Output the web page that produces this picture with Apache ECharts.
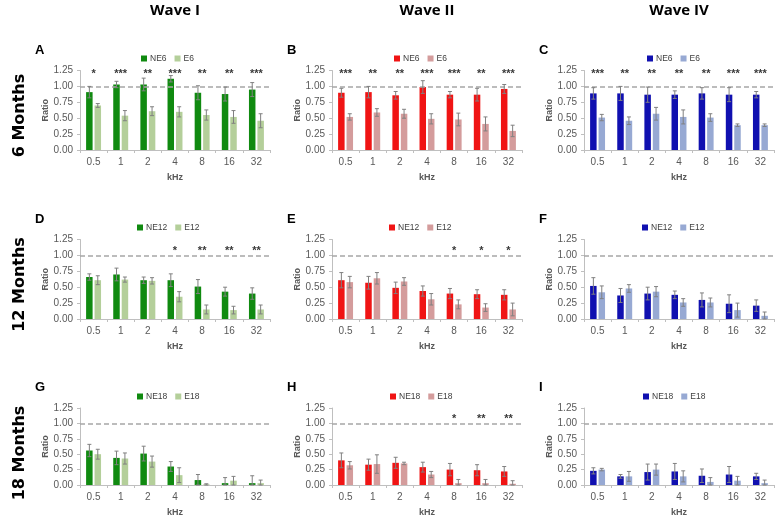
<!DOCTYPE html>
<html><head><meta charset="utf-8">
<script src="https://cdn.jsdelivr.net/npm/echarts@6/dist/echarts.min.js"></script>
<style>html,body{margin:0;padding:0;background:#fff}#c{width:776px;height:518px}</style>
</head><body><div id="c"></div>
<script>
// ---------- data ----------
const kHz = ['0.5','1','2','4','8','16','32'];
const waves = ['Wave I','Wave II','Wave IV'];
const ages = ['6 Months','12 Months','18 Months'];
const groupNE = ['NE6','NE12','NE18'];
const groupE = ['E6','E12','E18'];
const letters = ['A','B','C','D','E','F','G','H','I'];

// Panel A (Wave I, 6 months)
const A_NE = [0.91,1.03,1.03,1.12,0.90,0.88,0.95];
const A_NE_err = [0.09,0.05,0.10,0.05,0.11,0.11,0.11];
const A_E = [0.70,0.54,0.61,0.60,0.55,0.52,0.46];
const A_E_err = [0.03,0.08,0.07,0.08,0.08,0.10,0.11];
const A_sig = ['*','***','**','***','**','**','***'];
// Panel B (Wave II, 6 months)
const B_NE = [0.90,0.91,0.86,0.99,0.87,0.87,0.96];
const B_NE_err = [0.07,0.09,0.06,0.10,0.05,0.10,0.07];
const B_E = [0.52,0.59,0.57,0.49,0.48,0.41,0.30];
const B_E_err = [0.05,0.06,0.07,0.08,0.10,0.11,0.09];
const B_sig = ['***','**','**','***','***','**','***'];
// Panel C (Wave IV, 6 months)
const C_NE = [0.89,0.89,0.87,0.87,0.89,0.87,0.87];
const C_NE_err = [0.09,0.11,0.12,0.06,0.09,0.11,0.05];
const C_E = [0.51,0.46,0.57,0.52,0.51,0.39,0.39];
const C_E_err = [0.05,0.06,0.10,0.11,0.06,0.02,0.02];
const C_sig = ['***','**','**','**','**','***','***'];
// Panel D (Wave I, 12 months)
const D_NE = [0.66,0.70,0.61,0.61,0.51,0.43,0.40];
const D_NE_err = [0.05,0.10,0.05,0.10,0.11,0.07,0.09];
const D_E = [0.61,0.62,0.60,0.35,0.15,0.14,0.15];
const D_E_err = [0.07,0.04,0.05,0.08,0.07,0.06,0.07];
const D_sig = ['','','','*','**','**','**'];
// Panel E (Wave II, 12 months)
const E_NE = [0.61,0.57,0.49,0.44,0.40,0.39,0.38];
const E_NE_err = [0.12,0.10,0.09,0.08,0.08,0.07,0.08];
const E_E = [0.58,0.64,0.59,0.31,0.23,0.18,0.15];
const E_E_err = [0.09,0.09,0.06,0.09,0.07,0.06,0.10];
const E_sig = ['','','','','*','*','*'];
// Panel F (Wave IV, 12 months)
const F_NE = [0.52,0.37,0.40,0.38,0.30,0.24,0.21];
const F_NE_err = [0.13,0.11,0.10,0.06,0.11,0.14,0.09];
const F_E = [0.42,0.48,0.43,0.26,0.26,0.14,0.05];
const F_E_err = [0.10,0.06,0.08,0.06,0.07,0.11,0.06];
const F_sig = ['','','','','','',''];
// Panel G (Wave I, 18 months)
const G_NE = [0.56,0.44,0.51,0.30,0.08,0.03,0.03];
const G_NE_err = [0.10,0.11,0.12,0.08,0.09,0.09,0.12];
const G_E = [0.50,0.43,0.38,0.16,0.01,0.07,0.03];
const G_E_err = [0.08,0.09,0.09,0.12,0.01,0.07,0.05];
const G_sig = ['','','','','','',''];
// Panel H (Wave II, 18 months)
const H_NE = [0.40,0.33,0.36,0.29,0.25,0.24,0.22];
const H_NE_err = [0.12,0.09,0.09,0.08,0.10,0.09,0.08];
const H_E = [0.32,0.34,0.35,0.17,0.03,0.03,0.02];
const H_E_err = [0.06,0.15,0.02,0.05,0.06,0.06,0.05];
const H_sig = ['','','','','*','**','**'];
// Panel I (Wave IV, 18 months)
const I_NE = [0.23,0.14,0.21,0.22,0.15,0.17,0.14];
const I_NE_err = [0.05,0.03,0.13,0.13,0.11,0.13,0.05];
const I_E = [0.25,0.14,0.25,0.14,0.05,0.07,0.03];
const I_E_err = [0.02,0.08,0.09,0.09,0.07,0.07,0.05];
const I_sig = ['','','','','','',''];

const panels = [
  [A_NE,A_NE_err,A_E,A_E_err,A_sig],[B_NE,B_NE_err,B_E,B_E_err,B_sig],[C_NE,C_NE_err,C_E,C_E_err,C_sig],
  [D_NE,D_NE_err,D_E,D_E_err,D_sig],[E_NE,E_NE_err,E_E,E_E_err,E_sig],[F_NE,F_NE_err,F_E,F_E_err,F_sig],
  [G_NE,G_NE_err,G_E,G_E_err,G_sig],[H_NE,H_NE_err,H_E,H_E_err,H_sig],[I_NE,I_NE_err,I_E,I_E_err,I_sig]
];

// ---------- layout / style ----------
const colLeft = [80, 332, 584];
const plotW = 190;
const rowTop = [70.5, 239.5, 408];
const plotH = 79.5;
const sigLevel = [1.20, 1.07, 1.07];
const dark = ['#108a10','#f01414','#1010b0'];
const light = ['#b4cf9a','#d49c9c','#97a9d3'];
const legendLeft = [[136,389,642],[132,384,637],[132,385,638]];
const legendTop = [49, 218, 387];
const tickFont = 'Liberation Sans';
const BW = 6.5, OFF = 4.2;

function errRender(offset){
  return function(params, api){
    const x = api.value(0), v = api.value(1), e = api.value(2);
    const top = api.coord([x, v + e]);
    const bot = api.coord([x, Math.max(0, v - e)]);
    const cx = top[0] + offset;
    const style = {stroke:'#808080', lineWidth:1};
    return {type:'group', children:[
      {type:'line', shape:{x1:cx,y1:top[1],x2:cx,y2:bot[1]}, style:style},
      {type:'line', shape:{x1:cx-2,y1:top[1],x2:cx+2,y2:top[1]}, style:style},
      {type:'line', shape:{x1:cx-2,y1:bot[1],x2:cx+2,y2:bot[1]}, style:style}
    ]};
  };
}

const grid=[], xAxis=[], yAxis=[], series=[], legend=[], graphic=[];
panels.forEach(function(p, k){
  const r = Math.floor(k/3), c = k%3;
  const ne = p[0], neErr = p[1], e = p[2], eErr = p[3], sig = p[4];
  grid.push({left: colLeft[c], top: rowTop[r], width: plotW, height: plotH});
  xAxis.push({type:'category', gridIndex:k, data:kHz, name:'kHz', nameLocation:'middle', nameGap:23,
    nameTextStyle:{fontSize:9, fontWeight:'bold', color:'#595959', fontFamily:tickFont},
    axisLine:{lineStyle:{color:'#bfbfbf'}},
    axisTick:{show:true, length:3, lineStyle:{color:'#bfbfbf'}},
    axisLabel:{color:'#595959', fontSize:10, margin:7, fontFamily:tickFont}});
  yAxis.push({type:'value', gridIndex:k, min:0, max:1.25, interval:0.25, name:'Ratio', nameLocation:'middle', nameGap:28,
    nameTextStyle:{fontSize:9, fontWeight:'bold', color:'#595959', fontFamily:tickFont},
    axisLine:{show:true, lineStyle:{color:'#bfbfbf'}},
    axisTick:{show:true, length:3, lineStyle:{color:'#bfbfbf'}},
    splitLine:{show:false},
    axisLabel:{color:'#595959', fontSize:10, margin:7, fontFamily:tickFont, formatter:function(v){return v.toFixed(2);}}});
  series.push({type:'bar', name:groupNE[r], xAxisIndex:k, yAxisIndex:k, data:ne, barWidth:BW, barGap:'30%',
    itemStyle:{color:dark[c]}, silent:true,
    markLine:{silent:true, symbol:'none', label:{show:false}, lineStyle:{color:'#a6a6a6', type:[5,3], width:1.5}, data:[{yAxis:1}]}});
  series.push({type:'bar', name:groupE[r], xAxisIndex:k, yAxisIndex:k, data:e, barWidth:BW, barGap:'30%',
    itemStyle:{color:light[c]}, silent:true});
  series.push({type:'custom', xAxisIndex:k, yAxisIndex:k, renderItem:errRender(-OFF), silent:true, z:5,
    data: ne.map(function(v,i){return [i, v, neErr[i]];})});
  series.push({type:'custom', xAxisIndex:k, yAxisIndex:k, renderItem:errRender(OFF), silent:true, z:5,
    data: e.map(function(v,i){return [i, v, eErr[i]];})});
  const sd = [];
  sig.forEach(function(s,i){ if (s) sd.push([i, sigLevel[r], s]); });
  series.push({type:'scatter', xAxisIndex:k, yAxisIndex:k, symbolSize:1, silent:true, z:6,
    itemStyle:{color:'rgba(0,0,0,0)'},
    label:{show:true, position:'inside', formatter:function(pp){return pp.value[2];}, fontSize:11, fontWeight:'bold', color:'#000', fontFamily:tickFont},
    data: sd});
  legend.push({left:legendLeft[r][c], top:legendTop[r], itemWidth:6, itemHeight:6, itemGap:8, icon:'rect', selectedMode:false,
    textStyle:{fontSize:8.5, color:'#404040', fontFamily:tickFont, padding:[0,0,0,-2]},
    data:[{name:groupNE[r], itemStyle:{color:dark[c]}}, {name:groupE[r], itemStyle:{color:light[c]}}]});
  graphic.push({type:'text', left:colLeft[c]-45, top:rowTop[r]-27, style:{text:letters[k], font:'bold 13px "Liberation Sans"', fill:'#000'}});
});

waves.forEach(function(w,c){
  graphic.push({type:'text', x:colLeft[c]+95, y:11, style:{text:w, font:'bold 15px "Open Sans"', fill:'#000', align:'center', verticalAlign:'middle'}});
});
ages.forEach(function(a,r){
  graphic.push({type:'text', x:20, y:rowTop[r]+45, rotation:Math.PI/2, style:{text:a, font:'bold 16px "DejaVu Sans"', fill:'#000', align:'center', verticalAlign:'middle'}});
});

const chart = echarts.init(document.getElementById('c'));
chart.setOption({animation:false, grid:grid, xAxis:xAxis, yAxis:yAxis, series:series, legend:legend, graphic:graphic});
</script></body></html>
